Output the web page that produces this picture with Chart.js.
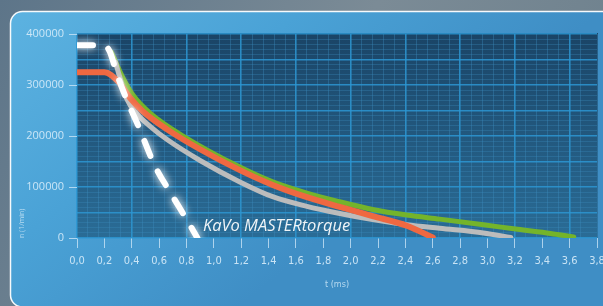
<!DOCTYPE html>
<html>
<head>
<meta charset="utf-8">
<script src="https://cdn.jsdelivr.net/npm/chart.js@4.4.1/dist/chart.umd.min.js"></script>
<style>
  html, body { margin: 0; padding: 0; background: #6f8291; }
  #wrap { width: 603px; height: 306px; }
</style>
</head>
<body>
<div id="wrap"><canvas id="brakeChart"></canvas></div>
<script>
// run-down curves: t in ms, n in 1/min
const whiteT = [0, 0.2, 0.24, 0.29, 0.365, 0.44, 0.57, 0.694, 0.804, 0.88];
const whiteN = [378000, 378000, 365000, 323000, 270000, 225000, 141000, 84000, 35000, 0];

const orangeT = [0, 0.2, 0.3, 0.387, 0.482, 0.658, 0.899, 1.19, 1.43, 1.68, 1.92, 2.16, 2.41, 2.6];
const orangeN = [325000, 325000, 307000, 275000, 248000, 213000, 174000, 133000, 104000, 80000, 61000, 43000, 24000, 1000];

const greenT = [0.25, 0.336, 0.41, 0.534, 0.775, 1.19, 1.43, 1.68, 1.92, 2.16, 2.41, 2.65, 2.97, 3.22, 3.46, 3.63];
const greenN = [365000, 314000, 280000, 245000, 200000, 139000, 110000, 88000, 71000, 56000, 45000, 37000, 26000, 17000, 9000, 2000];

const greyT = [0.28, 0.365, 0.44, 0.53, 0.658, 0.899, 1.19, 1.43, 1.68, 1.92, 2.16, 2.41, 2.65, 2.97, 3.17];
const greyN = [345000, 272000, 243000, 220000, 193000, 152000, 110000, 81000, 62000, 48000, 36000, 26000, 19000, 10000, 1000];

const xTickStep = 0.2;
const yTickStep = 100000;
const labelText = "KaVo MASTERtorque";

const toPoints = (ts, ns) => ts.map((t, i) => ({ x: t, y: ns[i] }));
const isMultiple = (v, step) => Math.abs(v / step - Math.round(v / step)) < 1e-6;

// ===== BACKGROUND PANEL + PLOT AREA =====
const backdrop = {
  id: "backdrop",
  beforeDraw(chart) {
    const { ctx, width, height, chartArea: a } = chart;
    ctx.save();

    let g = ctx.createLinearGradient(0, 0, width, height);
    g.addColorStop(0, "#5d7589");
    g.addColorStop(0.5, "#7b8b96");
    g.addColorStop(1, "#6a7e8b");
    ctx.fillStyle = g;
    ctx.fillRect(0, 0, width, height);

    g = ctx.createLinearGradient(0, 11, width * 0.4, height);
    g.addColorStop(0, "#5db3e1");
    g.addColorStop(0.5, "#4aa2d6");
    g.addColorStop(1, "#3f8ec5");
    ctx.beginPath();
    ctx.roundRect(10.5, 11.5, width + 30, 295.5, 12);
    ctx.fillStyle = g;
    ctx.fill();
    ctx.lineWidth = 1.5;
    ctx.strokeStyle = "rgba(255,255,255,0.95)";
    ctx.stroke();

    g = ctx.createLinearGradient(0, a.top, 0, a.bottom);
    g.addColorStop(0, "#1a4466");
    g.addColorStop(1, "#2a6c96");
    ctx.fillStyle = g;
    ctx.fillRect(a.left, a.top - 1, a.right - a.left + 1, a.bottom - a.top + 1);
    ctx.restore();
  }
};

// ===== GLOW ON DASHED LINE =====
const glow = {
  id: "glow",
  beforeDatasetDraw(chart, args) {
    if (chart.data.datasets[args.index].glow) {
      chart.ctx.save();
      chart.ctx.shadowColor = "rgba(255,255,255,1)";
      chart.ctx.shadowBlur = 9;
    }
  },
  afterDatasetDraw(chart, args) {
    if (chart.data.datasets[args.index].glow) chart.ctx.restore();
  }
};

// ===== CURVE LABEL =====
const curveLabel = {
  id: "curveLabel",
  afterDatasetsDraw(chart) {
    const { ctx, scales } = chart;
    ctx.save();
    ctx.font = "italic 16.5px 'Open Sans', sans-serif";
    ctx.fillStyle = "rgba(255,255,255,0.92)";
    ctx.textBaseline = "alphabetic";
    ctx.fillText(labelText, scales.x.getPixelForValue(0.92), scales.y.getPixelForValue(13700));
    ctx.restore();
  }
};

const lineStyle = {
  fill: false,
  pointRadius: 0,
  borderWidth: 5,
  borderCapStyle: "round",
  borderJoinStyle: "round",
  cubicInterpolationMode: "monotone",
  tension: 0.4
};

const tickColor = "rgba(215,236,250,0.9)";

new Chart(document.getElementById("brakeChart"), {
  type: "line",
  data: {
    datasets: [
      { ...lineStyle, data: toPoints(whiteT, whiteN), borderColor: "#ffffff", borderWidth: 6,
        borderDash: [16, 17], glow: true, order: 0 },
      { ...lineStyle, data: toPoints(orangeT, orangeN), borderColor: "#ef6841", borderWidth: 6, order: 1 },
      { ...lineStyle, data: toPoints(greyT, greyN), borderColor: "#bcbcbc", order: 2 },
      { ...lineStyle, data: toPoints(greenT, greenN), borderColor: "#74b42b", order: 3 }
    ]
  },
  options: {
    responsive: true,
    maintainAspectRatio: false,
    animation: false,
    layout: { padding: { left: 18, right: 0, top: 34, bottom: 0 } },
    plugins: { legend: { display: false }, tooltip: { enabled: false } },
    scales: {
      x: {
        type: "linear",
        min: 0,
        max: 3.8,
        position: "bottom",
        border: { display: false },
        grid: { drawOnChartArea: false, drawTicks: true, tickLength: 10, color: "rgba(210,232,248,0.75)", lineWidth: 1 },
        ticks: {
          stepSize: xTickStep,
          padding: 7,
          color: tickColor,
          font: { family: "'Liberation Sans Narrow', 'DejaVu Sans Condensed', sans-serif", size: 11 },
          callback: v => v.toFixed(1).replace(".", ",")
        },
        title: {
          display: true,
          text: "t (ms)",
          color: "rgba(200,228,246,0.85)",
          font: { family: "'Liberation Sans Narrow', 'DejaVu Sans Condensed', sans-serif", size: 9 },
          padding: { top: 0, bottom: 16 }
        },
        afterFit: s => { s.height = 68; s.paddingRight = 6; }
      },
      xg: {
        type: "linear",
        min: 0,
        max: 3.8,
        position: "bottom",
        border: { display: false },
        ticks: { display: false, stepSize: 0.08 },
        grid: {
          drawTicks: false,
          color: c => isMultiple(c.tick.value, 0.4) ? "rgba(45,150,210,0.85)" : "rgba(60,140,190,0.38)",
          lineWidth: c => isMultiple(c.tick.value, 0.4) ? 1.6 : 1
        }
      },
      y: {
        min: 0,
        max: 400000,
        border: { display: false },
        grid: { drawOnChartArea: false, drawTicks: true, tickLength: 8, color: "rgba(210,232,248,0.75)" },
        ticks: {
          stepSize: yTickStep,
          padding: 5,
          color: tickColor,
          font: { family: "'Open Sans', sans-serif", size: 11 },
          callback: v => String(v)
        },
        title: {
          display: true,
          text: "n (1/min)",
          align: "start",
          color: "rgba(200,228,246,0.85)",
          font: { family: "'Open Sans', sans-serif", size: 7 },
          padding: { top: 0, bottom: 0 }
        },
        afterFit: s => { s.width = 59; }
      },
      yg: {
        min: 0,
        max: 400000,
        border: { display: false },
        ticks: { display: false, stepSize: 10000 },
        grid: {
          drawTicks: false,
          color: c => isMultiple(c.tick.value, 50000) ? "rgba(45,150,210,0.85)" : "rgba(60,140,190,0.32)",
          lineWidth: c => isMultiple(c.tick.value, 50000) ? 1.6 : 1
        }
      }
    }
  },
  plugins: [backdrop, glow, curveLabel]
});
</script>
</body>
</html>
